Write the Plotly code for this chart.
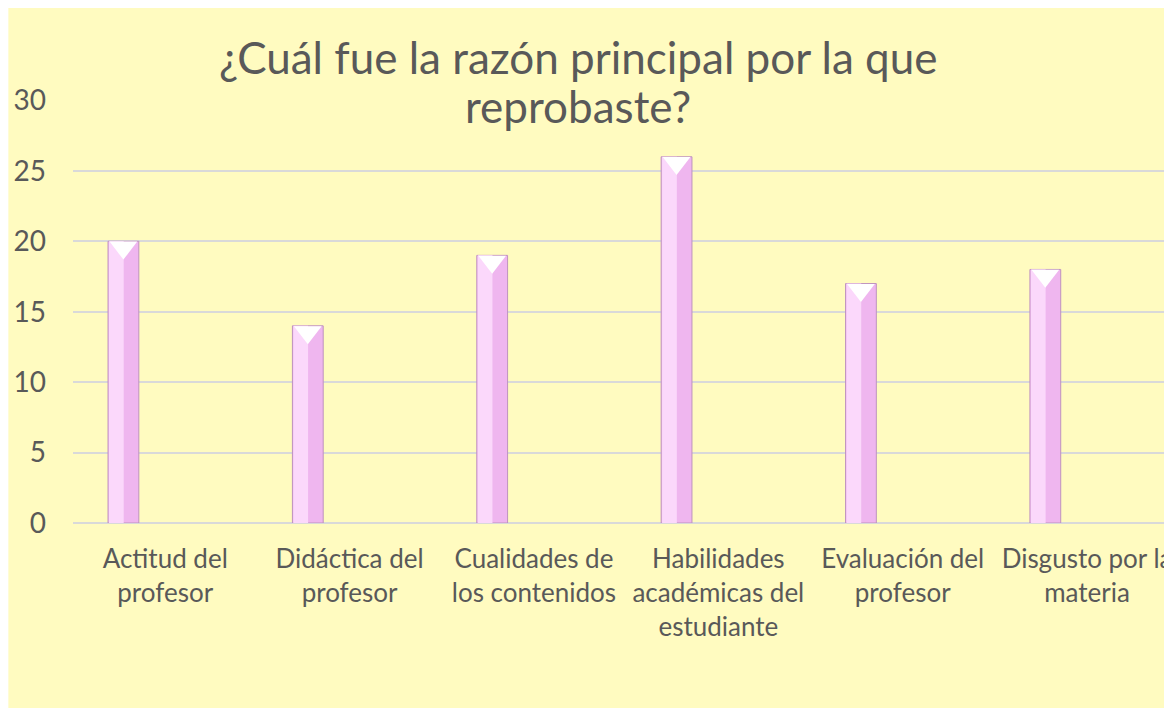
import plotly.graph_objects as go

# Data
categories = [
    "Actitud del<br>profesor",
    "Didáctica del<br>profesor",
    "Cualidades de<br>los contenidos",
    "Habilidades<br>académicas del<br>estudiante",
    "Evaluación del<br>profesor",
    "Disgusto por la<br>materia",
]
values = [20, 14, 19, 26, 17, 18]
y_ticks = [0, 5, 10, 15, 20, 25, 30]

positions = list(range(len(categories)))
text_color = '#595959'
font_family = 'Lato'

# plot area geometry (page has an 8px body margin)
plot_left, plot_top, plot_w, plot_h = 65, 92, 1099, 423

fig = go.Figure()

# Main bar (darker right face)
fig.add_trace(go.Bar(
    x=positions,
    y=values,
    width=0.167,
    offset=-0.31,
    marker=dict(color='#EFB6EF', line=dict(color='#BE93BE', width=1)),
    showlegend=False,
    hoverinfo='skip',
))

# Lighter left face for a bevelled look
fig.add_trace(go.Bar(
    x=positions,
    y=values,
    width=0.08,
    offset=-0.305,
    marker=dict(color='#FBD8FB', line=dict(width=0)),
    showlegend=False,
    hoverinfo='skip',
))

# White bevel tip at the top of each bar
fig.add_trace(go.Scatter(
    x=[p - 0.2265 for p in positions],
    y=[v - 0.45 for v in values],
    mode='markers',
    marker=dict(symbol='triangle-down', size=24, color='white', line=dict(width=0)),
    showlegend=False,
    hoverinfo='skip',
))

title_x = (573 - plot_left) / plot_w

fig.update_layout(
    width=1164,
    height=701,
    margin=dict(l=plot_left, r=0, t=plot_top, b=701 - plot_top - plot_h),
    paper_bgcolor='white',
    plot_bgcolor='rgba(0,0,0,0)',
    barmode='overlay',
    font=dict(family=font_family, color=text_color),
    shapes=[dict(
        type='rect', xref='paper', yref='paper',
        x0=-plot_left / plot_w, x1=1.01,
        y0=-185 / plot_h, y1=1 + plot_top / plot_h,
        fillcolor='#FFFBC0', line=dict(width=0), layer='below',
    )],
    annotations=[
        dict(text='¿Cuál fue la razón principal por la que', xref='paper', yref='paper',
             x=title_x, y=1 + 15 / plot_h, yanchor='bottom', xanchor='center',
             showarrow=False, font=dict(size=44, color=text_color, family=font_family)),
        dict(text='reprobaste?', xref='paper', yref='paper',
             x=title_x, y=1 - 34 / plot_h, yanchor='bottom', xanchor='center',
             showarrow=False, font=dict(size=44, color=text_color, family=font_family)),
    ],
)

fig.update_xaxes(
    range=[-0.5, 5.428],
    tickvals=positions,
    ticktext=categories,
    tickfont=dict(size=26, color=text_color),
    ticklabeloverflow='allow',
    showgrid=False,
    zeroline=False,
    showline=False,
    ticks='',
    ticklabelstandoff=18,
)

fig.update_yaxes(
    range=[0, 30.03],
    tickvals=y_ticks,
    tickfont=dict(size=28, color=text_color),
    showgrid=True,
    gridcolor='#D9D9D9',
    gridwidth=2,
    zeroline=True,
    zerolinecolor='#D9D9D9',
    zerolinewidth=2,
    showline=False,
    ticks='',
    ticklabelstandoff=26,
)

fig.write_html("out.html")
